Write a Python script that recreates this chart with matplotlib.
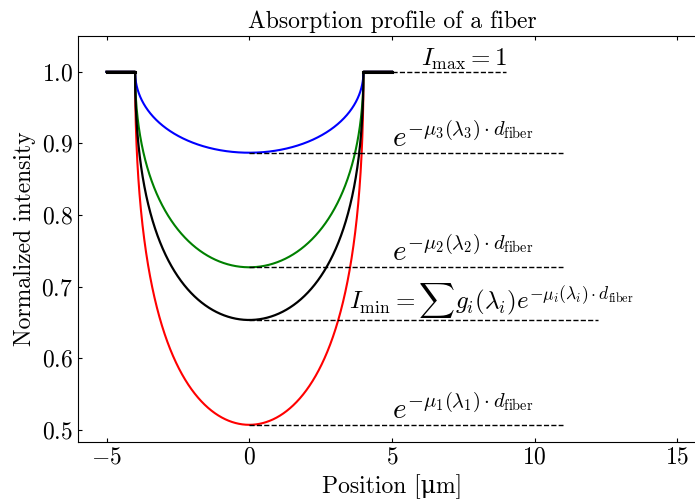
import numpy as np
import matplotlib
matplotlib.use("Agg")
import matplotlib.pyplot as plt

plt.rcParams['font.family'] = ['cmr10', 'DejaVu Serif']
plt.rcParams['mathtext.fontset'] = 'cm'
plt.rcParams['axes.formatter.use_mathtext'] = True
plt.rcParams['font.size'] = 17

# fiber geometry and transmission values
R_fiber = 4.0             # fiber radius [um]
x_edge = 5.0              # plotted half width
I_min = [0.507, 0.727, 0.887]   # e^{-mu_i d} at the centre, i = 1, 2, 3
colors = ['red', 'green', 'blue']
g = [0.48, 0.32, 0.20]    # spectral weights g_i
line_end = [11.0, 11.0, 11.0]
sum_end = 12.2
imax_end = 9.0

labels = [r'$e^{-\mu_1(\lambda_1)\cdot d_{\mathrm{fiber}}}$',
          r'$e^{-\mu_2(\lambda_2)\cdot d_{\mathrm{fiber}}}$',
          r'$e^{-\mu_3(\lambda_3)\cdot d_{\mathrm{fiber}}}$']

x = np.linspace(-x_edge, x_edge, 2001)
# path length through the fiber relative to the diameter
frac = np.sqrt(np.clip(R_fiber**2 - x**2, 0, None)) / R_fiber

fig = plt.figure(figsize=(6.95, 5.04), dpi=100)
ax = fig.add_axes([78/695, (504-442)/504, (706-78)/695, (442-36)/504])

total = np.zeros_like(x)
for Im, c, gi in zip(I_min, colors, g):
    prof = Im ** frac
    total += gi * prof
    ax.plot(x, prof, color=c, lw=1.5)
ax.plot(x, total, color='black', lw=1.6)
# outside the fiber: no absorption
left = x <= -R_fiber
right = x >= R_fiber
ax.plot(x[left], np.ones(left.sum()), color='black', lw=2.2)
ax.plot(x[right], np.ones(right.sum()), color='black', lw=2.2)

I_sum = sum(gi * Im for gi, Im in zip(g, I_min))

for Im, lab, xe in zip(I_min, labels, line_end):
    ax.plot([0, xe], [Im, Im], 'k--', lw=1)
    ax.text(5.0, Im, lab, ha='left', va='bottom', fontsize=21)

ax.plot([0, sum_end], [I_sum, I_sum], 'k--', lw=1)
ax.text(3.5, I_sum, r'$I_{\mathrm{min}} = \sum g_i(\lambda_i) e^{-\mu_i(\lambda_i)\cdot d_{\mathrm{fiber}}}$',
        ha='left', va='bottom', fontsize=18)

ax.plot([x_edge, imax_end], [1, 1], 'k--', lw=1)
ax.text(6.0, 1.0, r'$I_{\mathrm{max}} = 1$', ha='left', va='bottom', fontsize=18)

ax.set_xlim(-6, 16)
ax.set_ylim(0.483, 1.05)
ax.set_xticks([-5, 0, 5, 10, 15])
ax.set_yticks([0.5, 0.6, 0.7, 0.8, 0.9, 1.0])
ax.tick_params(direction='in', top=True, right=True, length=3)
ax.set_title('Absorption profile of a fiber', fontsize=17)
ax.set_xlabel('Position [\u03bcm]')
ax.set_ylabel('Normalized intensity')

fig.savefig('out.png', dpi=100)
